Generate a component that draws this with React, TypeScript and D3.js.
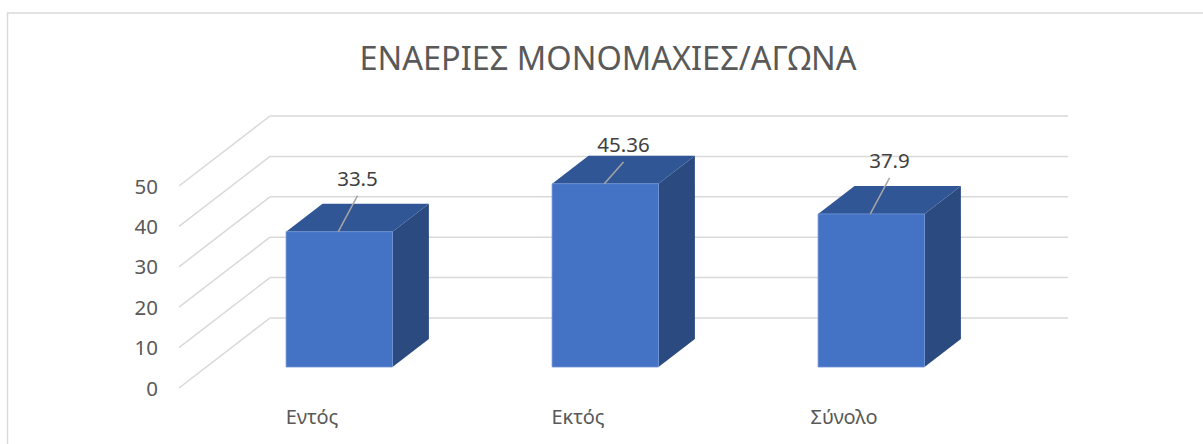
import { useEffect, useRef } from 'react';
import * as d3 from 'd3';

const title = 'ΕΝΑΕΡΙΕΣ ΜΟΝΟΜΑΧΙΕΣ/ΑΓΩΝΑ';
const categories = ['Εντός', 'Εκτός', 'Σύνολο'];
const values = [33.5, 45.36, 37.9];
const valueLabels = ['33.5', '45.36', '37.9'];
const yTicks = [0, 10, 20, 30, 40, 50];

export default function App() {
  const svgRef = useRef<SVGSVGElement>(null);

  useEffect(() => {
    if (!svgRef.current) return;
    const width = 1203;
    const height = 444;
    const font = "'Noto Sans', 'Open Sans', sans-serif";
    const textColor = '#595959';
    const gridColor = '#d9d9d9';

    d3.select(svgRef.current).selectAll('*').remove();
    const svg = d3.select(svgRef.current)
      .attr('width', width)
      .attr('height', height);

    // рамка диаграммы
    svg.append('rect')
      .attr('x', 7.5).attr('y', 13)
      .attr('width', width + 20).attr('height', height + 20)
      .attr('fill', '#fff')
      .attr('stroke', gridColor)
      .attr('stroke-width', 1.5);

    // передняя плоскость + глубина (косая проекция)
    const depthX = 91;
    const depthY = -70;
    const x = d3.scaleBand<string>()
      .domain(categories)
      .range([179, 977])
      .paddingInner(0.6)
      .paddingOuter(0.3);
    const y = d3.scaleLinear().domain([0, 50]).range([388, 186]);
    const px = (vx: number, z: number) => vx + z * depthX;
    const py = (vy: number, z: number) => vy + z * depthY;

    svg.append('text')
      .attr('x', 608)
      .attr('y', 70)
      .attr('text-anchor', 'middle')
      .attr('font-family', font)
      .attr('font-size', 32.5)
      .attr('fill', textColor)
      .text(title);

    // сетка: задняя стенка и боковые диагонали
    const grid = svg.append('g').attr('stroke', gridColor).attr('stroke-width', 1.5).attr('fill', 'none');
    yTicks.forEach(t => {
      grid.append('line')
        .attr('x1', px(179, 0)).attr('y1', y(t))
        .attr('x2', px(179, 1)).attr('y2', py(y(t), 1));
      grid.append('line')
        .attr('x1', px(179, 1)).attr('y1', py(y(t), 1))
        .attr('x2', px(977, 1)).attr('y2', py(y(t), 1));
    });

    svg.append('g')
      .selectAll('text')
      .data(yTicks)
      .join('text')
      .attr('x', 158)
      .attr('y', d => y(d) + 2)
      .attr('text-anchor', 'end')
      .attr('dominant-baseline', 'middle')
      .attr('font-family', font)
      .attr('font-size', 20.5)
      .attr('fill', textColor)
      .text(d => d);

    svg.append('g')
      .selectAll('text')
      .data(categories)
      .join('text')
      .attr('x', d => (x(d) ?? 0) + x.bandwidth() / 2)
      .attr('y', 424)
      .attr('text-anchor', 'middle')
      .attr('font-family', font)
      .attr('font-size', 20)
      .attr('fill', textColor)
      .text(d => d);

    // 3D столбцы
    const z0 = 0.3;
    const z1 = 0.7;
    const bars = svg.append('g');
    categories.forEach((c, i) => {
      const x0 = x(c) ?? 0;
      const x1 = x0 + x.bandwidth();
      const yb = y(0);
      const yt = y(values[i]);
      const pts = (arr: [number, number, number][]) =>
        arr.map(([a, b, z]) => `${px(a, z)},${py(b, z)}`).join(' ');

      // правая грань
      bars.append('polygon')
        .attr('points', pts([[x1, yb, z0], [x1, yb, z1], [x1, yt, z1], [x1, yt, z0]]))
        .attr('fill', '#2b4a7f');
      // верхняя грань
      bars.append('polygon')
        .attr('points', pts([[x0, yt, z0], [x1, yt, z0], [x1, yt, z1], [x0, yt, z1]]))
        .attr('fill', '#315695');
      // передняя грань
      bars.append('polygon')
        .attr('points', pts([[x0, yb, z0], [x1, yb, z0], [x1, yt, z0], [x0, yt, z0]]))
        .attr('fill', '#4472c4')
        .attr('stroke', '#6e93d6')
        .attr('stroke-width', 0.8);

      // подпись с выноской
      const topCx = px((x0 + x1) / 2, (z0 + z1) / 2);
      const topCy = py(yt, (z0 + z1) / 2);
      const ly = Math.max(topCy - 32, py(y(50), 1) + 36);
      const frontCx = px((x0 + x1) / 2, z0) - 1;
      const frontTy = py(yt, z0);
      svg.append('line')
        .attr('x1', topCx).attr('y1', ly + 10)
        .attr('x2', frontCx).attr('y2', frontTy)
        .attr('stroke', '#a6a6a6')
        .attr('stroke-width', 1.5);
      svg.append('text')
        .attr('x', topCx)
        .attr('y', ly)
        .attr('text-anchor', 'middle')
        .attr('font-family', font)
        .attr('font-size', 20.5)
        .attr('fill', '#404040')
        .text(valueLabels[i]);
    });
  }, []);

  return (
    <svg ref={svgRef} style={{ position: 'absolute', left: 0, top: 0, display: 'block' }}></svg>
  );
}
